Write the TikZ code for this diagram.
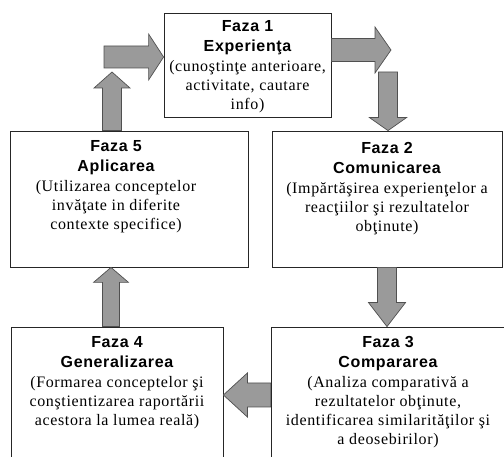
\documentclass[tikz,border=0pt]{standalone}
\usepackage{fontspec}
\setmainfont{Liberation Serif}[LetterSpace=4]
\newfontfamily\titlefont{Liberation Sans}[LetterSpace=4]
\usetikzlibrary{positioning, calc}
\definecolor{arrowgray}{RGB}{154,154,154}
\definecolor{edgegray}{RGB}{80,80,80}

\tikzset{
  phase/.style={draw=black!85, fill=white, line width=0.8pt, inner sep=0pt},
  phasetext/.style={align=center, inner sep=0pt, font=\fontsize{16}{19}\selectfont},
  fatarrow/.style={draw=edgegray, fill=arrowgray, line width=0.7pt, line join=miter},
}
% fat arrow: from, to, half shaft, half head, head length
\newcommand{\fatarrow}[5]{%
  \path[fatarrow] let \p1=(#1), \p2=(#2),
    \n1={atan2(\y2-\y1,\x2-\x1)}, \n2={veclen(\x2-\x1,\y2-\y1)} in
    [shift={(\p1)}, rotate=\n1]
    (0,-#3) -- (\n2-#5,-#3) -- (\n2-#5,-#4) -- (\n2,0)
    -- (\n2-#5,#4) -- (\n2-#5,#3) -- (0,#3) -- cycle;
}
\newcommand{\titl}[1]{{\titlefont\bfseries #1}}

\begin{document}
\begin{tikzpicture}[x=1pt, y=-1pt]
  \useasboundingbox (0,0) rectangle (504,457);
  % Boxes
  \node[phase, minimum width=167pt, minimum height=104pt] (f1) at (247.5,65) {};
  \node[phase, minimum width=230pt, minimum height=136pt] (f2) at (387,199) {};
  \node[phase, minimum width=234pt, minimum height=136pt] (f3) at (388,395) {};
  \node[phase, minimum width=212pt, minimum height=136pt] (f4) at (117,395) {};
  \node[phase, minimum width=238pt, minimum height=136pt] (f5) at (129,199) {};
  % Texts
  \node[phasetext, below=8pt of f1.north] (t1) {\titl{Faza 1}\\[1pt] \titl{Experienţa}\\[1pt]
    (cunoştinţe anterioare,\\ activitate, cautare\\ info)};
  \node[phasetext, below=12pt of f2.north] (t2) {\titl{Faza 2}\\[1pt] \titl{Comunicarea}\\[1pt]
    (Impărtăşirea experienţelor a\\ reacţiilor şi rezultatelor\\ obţinute)};
  \node[phasetext, below=10pt of f3.north] (t3) {\titl{Faza 3}\\[1pt] \titl{Compararea}\\[1pt]
    (Analiza comparativă a\\ rezultatelor obţinute,\\ identificarea similarităţilor şi\\ a deosebirilor)};
  \node[phasetext, below=10pt of f4.north] (t4) {\titl{Faza 4}\\[1pt] \titl{Generalizarea}\\[1pt]
    (Formarea conceptelor şi\\ conştientizarea raportării\\ acestora la lumea reală)};
  \node[phasetext, below=10pt of f5.north, xshift=-13pt] (t5) {\titl{Faza 5}\\[1pt] \titl{Aplicarea}\\[1pt]
    (Utilizarea conceptelor\\ invăţate in diferite\\ contexte specifice)};
  % Free ends of the arrows
  \coordinate (k1) at (391,50);
  \coordinate (k2) at (388,72);
  \coordinate (k6) at (112,72);
  \coordinate (k7) at (104,57);
  % Arrows
  \fatarrow{f1.east |- k1}{k1}{11.5}{23}{16}
  \fatarrow{k2}{k2 |- f2.north}{9.5}{18.5}{13}
  \fatarrow{f2.south}{f2.south |- f3.north}{9.5}{18.5}{24}
  \fatarrow{f3.west}{f4.east}{12}{22}{24}
  \fatarrow{[xshift=-6]f4.north}{[xshift=-6]f4.north |- f5.south}{8.5}{17.5}{15}
  \fatarrow{k6 |- f5.north}{k6}{9.5}{18}{16}
  \fatarrow{k7}{k7 -| f1.west}{11}{23}{15}
\end{tikzpicture}
\end{document}
